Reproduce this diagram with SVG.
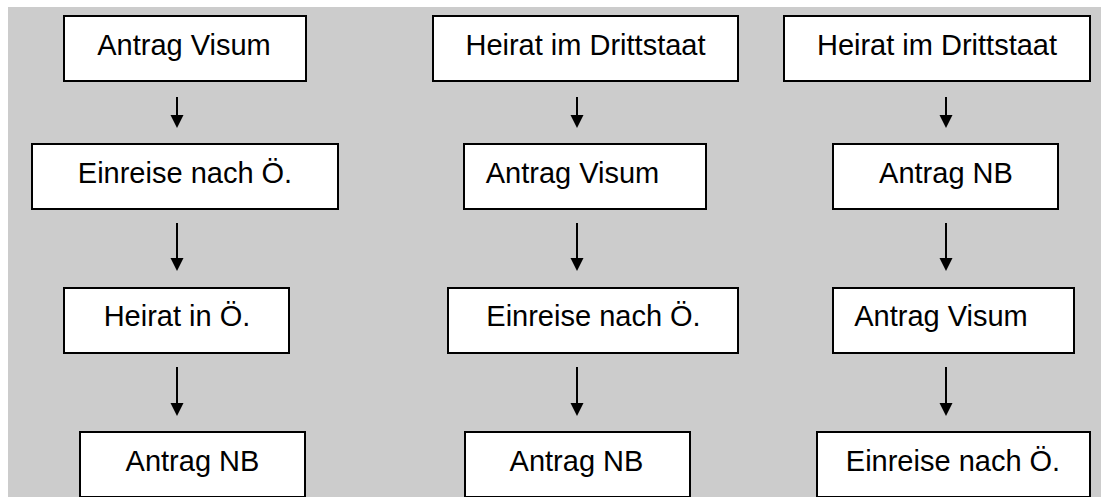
<svg xmlns="http://www.w3.org/2000/svg" width="1101" height="497" viewBox="0 0 1101 497">
<style>
.box{fill:#fff;stroke:#000;stroke-width:2}
.lbl{font-family:"Liberation Sans",Arial,sans-serif;font-size:29px;fill:#000;text-anchor:middle}
.ln{stroke:#000;stroke-width:2;fill:none}
.hd{fill:#000}
</style>
<rect x="0" y="0" width="1101" height="497" fill="#fff"/>
<rect x="8" y="7" width="1093" height="490" fill="#cccccc"/>
<g id="c1n1"><rect class="box" x="64" y="16" width="242" height="65"/><text class="lbl" x="184" y="55">Antrag Visum</text></g>
<g id="c1n2"><rect class="box" x="32" y="144" width="306" height="65"/><text class="lbl" x="185" y="183">Einreise nach Ö.</text></g>
<g id="c1n3"><rect class="box" x="64" y="288" width="225" height="65"/><text class="lbl" x="177" y="326">Heirat in Ö.</text></g>
<g id="c1n4"><rect class="box" x="80" y="432" width="225" height="65"/><text class="lbl" x="192.5" y="471">Antrag NB</text></g>
<g id="c2n1"><rect class="box" x="433" y="16" width="305" height="65"/><text class="lbl" x="585.5" y="55">Heirat im Drittstaat</text></g>
<g id="c2n2"><rect class="box" x="464" y="144" width="242" height="65"/><text class="lbl" x="572.5" y="183">Antrag Visum</text></g>
<g id="c2n3"><rect class="box" x="448" y="288" width="290" height="65"/><text class="lbl" x="593.5" y="326">Einreise nach Ö.</text></g>
<g id="c2n4"><rect class="box" x="465" y="432" width="225" height="65"/><text class="lbl" x="576.5" y="471">Antrag NB</text></g>
<g id="c3n1"><rect class="box" x="784" y="16" width="306" height="65"/><text class="lbl" x="937" y="55">Heirat im Drittstaat</text></g>
<g id="c3n2"><rect class="box" x="833" y="144" width="225" height="65"/><text class="lbl" x="946" y="183">Antrag NB</text></g>
<g id="c3n3"><rect class="box" x="833" y="288" width="241" height="65"/><text class="lbl" x="941" y="326">Antrag Visum</text></g>
<g id="c3n4"><rect class="box" x="817" y="432" width="273" height="65"/><text class="lbl" x="953" y="471">Einreise nach Ö.</text></g>
<g id="connectors">
<line class="ln" x1="177" y1="97" x2="177" y2="116"/><polygon class="hd" points="170.5,115 183.5,115 177,128"/>
<line class="ln" x1="177" y1="223" x2="177" y2="259"/><polygon class="hd" points="170.5,258 183.5,258 177,271"/>
<line class="ln" x1="177" y1="367" x2="177" y2="404"/><polygon class="hd" points="170.5,403 183.5,403 177,416"/>
<line class="ln" x1="577" y1="97" x2="577" y2="116"/><polygon class="hd" points="570.5,115 583.5,115 577,128"/>
<line class="ln" x1="577" y1="223" x2="577" y2="259"/><polygon class="hd" points="570.5,258 583.5,258 577,271"/>
<line class="ln" x1="577" y1="367" x2="577" y2="404"/><polygon class="hd" points="570.5,403 583.5,403 577,416"/>
<line class="ln" x1="946" y1="97" x2="946" y2="116"/><polygon class="hd" points="939.5,115 952.5,115 946,128"/>
<line class="ln" x1="946" y1="223" x2="946" y2="259"/><polygon class="hd" points="939.5,258 952.5,258 946,271"/>
<line class="ln" x1="946" y1="367" x2="946" y2="404"/><polygon class="hd" points="939.5,403 952.5,403 946,416"/>
</g>
</svg>
